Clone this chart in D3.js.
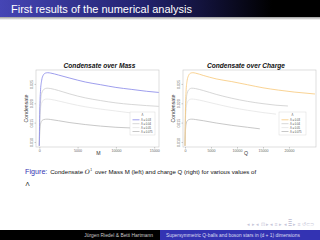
<!DOCTYPE html>
<html><head><meta charset="utf-8">
<script src="https://cdn.jsdelivr.net/npm/d3@7"></script>
<style>html,body{margin:0;padding:0;background:#fff;}svg{display:block;font-family:"Liberation Sans",Arial,sans-serif;}</style>
</head><body>
<svg id="c" width="320" height="240"></svg>
<script>
// ---- data ----
const lambdaLabels = ["Λ = 0.03", "Λ = 0.04", "Λ = 0.05", "Λ = 0.075"];
const yTicks = [0.010, 0.015, 0.020, 0.025];
const xTicksMass = [0, 5000, 10000, 15000];
const xTicksCharge = [0, 5000, 10000, 15000, 20000];

// Condensate over Mass
const massL1 = [0, 60, 150, 300, 500, 800, 1100, 1500, 2500, 4000, 6000, 8000, 10000, 12000, 14000, 15600];
const condM1 = [0.0090, 0.0180, 0.0230, 0.0258, 0.0272, 0.0278, 0.0279, 0.0278, 0.0273, 0.0265, 0.0255, 0.0248, 0.0241, 0.0236, 0.0231, 0.0228];
const massL2 = [0, 60, 150, 300, 600, 1000, 1500, 2500, 4000, 6000, 8000, 10000, 12000, 14000, 15600];
const condM2 = [0.0090, 0.0160, 0.0200, 0.0225, 0.0236, 0.0239, 0.0238, 0.0233, 0.0224, 0.0214, 0.0207, 0.0201, 0.0197, 0.0194, 0.0192];
const massL3 = [0, 60, 150, 300, 600, 1000, 1500, 2500, 4000, 6000, 8000, 10000, 12000, 13500];
const condM3 = [0.0090, 0.0150, 0.0182, 0.0200, 0.0209, 0.0211, 0.0210, 0.0206, 0.0199, 0.0191, 0.0185, 0.0180, 0.0175, 0.0172];
const massL4 = [0, 60, 150, 300, 600, 1000, 1500, 2500, 4000, 6000, 8000, 10000, 12230];
const condM4 = [0.0090, 0.0125, 0.0145, 0.0154, 0.0158, 0.0159, 0.0158, 0.0155, 0.0150, 0.0145, 0.0141, 0.0138, 0.0136];

// Condensate over Charge
const chargeL1 = [0, 80, 200, 400, 700, 1100, 1500, 2000, 3500, 6000, 9000, 12000, 15000, 18000, 21000, 25000];
const condQ1 = [0.0090, 0.0180, 0.0230, 0.0258, 0.0272, 0.0278, 0.0279, 0.0278, 0.0272, 0.0263, 0.0256, 0.0248, 0.0240, 0.0234, 0.0229, 0.0224];
const chargeL2 = [0, 80, 200, 400, 800, 1300, 2000, 3500, 6000, 9000, 12000, 15000, 17500, 19800];
const condQ2 = [0.0090, 0.0160, 0.0200, 0.0225, 0.0236, 0.0239, 0.0238, 0.0233, 0.0223, 0.0213, 0.0205, 0.0199, 0.0195, 0.0193];
const chargeL3 = [0, 80, 200, 400, 800, 1300, 2000, 3500, 6000, 9000, 12000, 15000, 17500];
const condQ3 = [0.0090, 0.0150, 0.0182, 0.0200, 0.0209, 0.0211, 0.0210, 0.0206, 0.0198, 0.0189, 0.0182, 0.0176, 0.0172];
const chargeL4 = [0, 80, 200, 400, 800, 1300, 2000, 3500, 6000, 9000, 12000, 14400];
const condQ4 = [0.0090, 0.0125, 0.0145, 0.0154, 0.0158, 0.0159, 0.0158, 0.0155, 0.0149, 0.0143, 0.0138, 0.0134];

const massSeries = [[massL1, condM1], [massL2, condM2], [massL3, condM3], [massL4, condM4]];
const chargeSeries = [[chargeL1, condQ1], [chargeL2, condQ2], [chargeL3, condQ3], [chargeL4, condQ4]];

// ---- drawing ----
const svg = d3.select("#c");
const defs = svg.append("defs");
const g1 = defs.append("linearGradient").attr("id", "tb").attr("x1", "0").attr("x2", "1").attr("y1", "0").attr("y2", "0");
g1.append("stop").attr("offset", "0").attr("stop-color", "#4545b5");
g1.append("stop").attr("offset", "0.45").attr("stop-color", "#22226e");
g1.append("stop").attr("offset", "0.85").attr("stop-color", "#000000");
const g2 = defs.append("linearGradient").attr("id", "sh").attr("x1", "0").attr("x2", "0").attr("y1", "0").attr("y2", "1");
g2.append("stop").attr("offset", "0").attr("stop-color", "#9a9a9a");
g2.append("stop").attr("offset", "1").attr("stop-color", "#ffffff");

svg.append("rect").attr("x", 0).attr("y", 0).attr("width", 320).attr("height", 17).attr("fill", "url(#tb)");
svg.append("rect").attr("x", 0).attr("y", 17).attr("width", 320).attr("height", 3).attr("fill", "url(#sh)");
svg.append("text").attr("x", 11).attr("y", 12.5).attr("fill", "#fff").attr("font-size", 11)
  .text("First results of the numerical analysis");

const greys = ["#cdcdcd", "#e4e4e4", "#bababa"];

function panel(opt) {
  const x = d3.scaleLinear().domain(opt.xDomain).range([opt.left, opt.right]);
  const y = d3.scaleLinear().domain([0.0087, 0.0286]).range([147, 70]);
  const g = svg.append("g");
  g.append("rect").attr("x", opt.left).attr("y", 70).attr("width", opt.right - opt.left).attr("height", 77)
    .attr("fill", "#fff").attr("stroke", "#c8c8c8").attr("stroke-width", 0.6);
  // x axis
  const xa = g.append("g").attr("transform", "translate(0,147)")
    .call(d3.axisBottom(x).tickValues(opt.xTicks).tickSize(1.5).tickPadding(1).tickFormat(d3.format("d")));
  xa.select(".domain").remove();
  xa.selectAll("line").attr("stroke", "#999").attr("stroke-width", 0.5);
  xa.selectAll("text").attr("font-size", 3.6).attr("fill", "#666").attr("font-family", "Liberation Sans, Arial, sans-serif");
  // y axis
  const ya = g.append("g").attr("transform", `translate(${opt.left},0)`)
    .call(d3.axisLeft(y).tickValues(yTicks).tickSize(1.5).tickPadding(1).tickFormat(d3.format(".3f")));
  ya.select(".domain").remove();
  ya.selectAll("line").attr("stroke", "#999").attr("stroke-width", 0.5);
  ya.selectAll("text").attr("font-size", 3.6).attr("fill", "#666").attr("font-family", "Liberation Sans, Arial, sans-serif")
    .attr("text-anchor", "middle").attr("transform", "translate(-3.5,0) rotate(-90)")
    .attr("x", 0).attr("y", 0).attr("dy", "0");
  // titles
  g.append("text").attr("x", (opt.left + opt.right) / 2 + opt.titleShift).attr("y", 67.5).attr("text-anchor", "middle")
    .attr("font-size", 6.6).attr("font-weight", "bold").attr("font-style", "italic").attr("fill", "#111").text(opt.title);
  g.append("text").attr("x", opt.xLabelX).attr("y", 155).attr("text-anchor", "middle")
    .attr("font-size", 5.2).attr("fill", "#333").text(opt.xLabel);
  g.append("text").attr("transform", `translate(${opt.left - 8},108.5) rotate(-90)`).attr("text-anchor", "middle")
    .attr("font-size", 5.2).attr("fill", "#333").text("Condensate");
  // lines
  const line = d3.line().x(d => x(d[0])).y(d => y(d[1])).curve(d3.curveMonotoneX);
  const cols = [opt.main].concat(greys);
  const order = [3, 2, 1, 0];
  order.forEach(i => {
    const s = opt.series[i];
    const pts = s[0].map((v, k) => [v, s[1][k]]);
    g.append("path").attr("d", line(pts)).attr("fill", "none").attr("stroke", cols[i]).attr("stroke-width", 0.8);
  });
  // legend
  const lx = opt.legX, ly = 112, lw = opt.legW, lh = 23;
  g.append("rect").attr("x", lx).attr("y", ly).attr("width", lw).attr("height", lh)
    .attr("fill", "#fff").attr("stroke", "#d0d0d0").attr("stroke-width", 0.4);
  g.append("text").attr("x", lx + lw / 2).attr("y", ly + 3.6).attr("text-anchor", "middle").attr("font-size", 2.8).attr("fill", "#444").text("Λ");
  lambdaLabels.forEach((t, i) => {
    const yy = ly + 7.8 + i * 3.9;
    g.append("line").attr("x1", lx + 2.5).attr("x2", lx + 9.5).attr("y1", yy).attr("y2", yy).attr("stroke", cols[i]).attr("stroke-width", 0.8);
    g.append("text").attr("x", lx + 11).attr("y", yy + 1).attr("font-size", 2.7).attr("fill", "#444").text(t);
  });
}

panel({left: 36, right: 159, xDomain: [-430, 15630], xTicks: xTicksMass, series: massSeries, main: "#8585e8",
  title: "Condensate over Mass", titleShift: 2, xLabel: "M", xLabelX: 98.5, legX: 130, legW: 25});
panel({left: 183, right: 316, xDomain: [-385, 25200], xTicks: xTicksCharge, series: chargeSeries, main: "#f7c878",
  title: "Condensate over Charge", titleShift: -3.5, xLabel: "Q", xLabelX: 246, legX: 279, legW: 27});

// caption
const cap = svg.append("text").attr("x", 25).attr("y", 174).attr("font-size", 6.1).attr("fill", "#111");
cap.append("tspan").attr("fill", "#3333b3").attr("font-size", 7.2).text("Figure:");
cap.append("tspan").attr("dx", 2.8).text("Condensate ");
cap.append("tspan").attr("font-style", "italic").attr("font-family", "DejaVu Serif, serif").text("O");
cap.append("tspan").attr("font-size", 3.2).attr("dy", -3).attr("dx", 0.6).text("1");
cap.append("tspan").attr("dy", 3).attr("dx", 2.8).text("over Mass M (left) and charge Q (right) for various values of");
svg.append("text").attr("x", 25.5).attr("y", 186).attr("font-size", 6.1).attr("fill", "#111").text("Λ");

// navigation symbols
svg.append("text").attr("x", 314).attr("y", 225.5).attr("text-anchor", "end").attr("font-size", 5).attr("fill", "#c6c6d8")
  .text("◂ ▸ ◂ ⊡ ▸ ◂ ≡ ▸ ◂ ≣ ▸   ≡   ↺⊂⊃");

// footer
svg.append("rect").attr("x", 0).attr("y", 230).attr("width", 160).attr("height", 10).attr("fill", "#000");
svg.append("rect").attr("x", 160).attr("y", 230).attr("width", 160).attr("height", 10).attr("fill", "#3333b3");
svg.append("text").attr("x", 153).attr("y", 236.5).attr("text-anchor", "end").attr("font-size", 4.9).attr("fill", "#c8c8c8")
  .text("Jürgen Riedel & Betti Hartmann");
svg.append("text").attr("x", 166).attr("y", 236.5).attr("font-size", 4.85).attr("fill", "#dcdcf2")
  .text("Supersymmetric Q-balls and boson stars in (d + 1) dimensions");
</script>
</body></html>
